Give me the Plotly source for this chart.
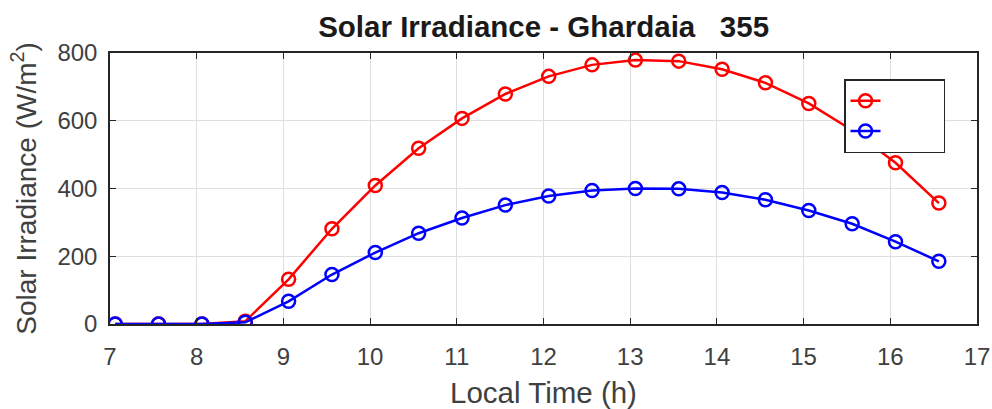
import plotly.graph_objects as go

time_h = [7.06, 7.56, 8.06, 8.56, 9.06, 9.56, 10.06, 10.56, 11.06, 11.56,
          12.06, 12.56, 13.06, 13.56, 14.06, 14.56, 15.06, 15.56, 16.06, 16.56]
red_vals = [0, 0, 0, 8, 132, 281, 409, 519, 607, 679,
            731, 765, 779, 776, 752, 712, 651, 572, 476, 357]
blue_vals = [0, 0, 0, 5, 67, 146, 211, 268, 313, 351,
             378, 394, 400, 399, 388, 367, 335, 296, 243, 185]

x_ticks = [7, 8, 9, 10, 11, 12, 13, 14, 15, 16, 17]
y_ticks = [0, 200, 400, 600, 800]

FONT = "Liberation Sans, Arial, sans-serif"
PAD = "\u00a0" * 9

fig = go.Figure()
fig.add_trace(go.Scatter(
    x=time_h, y=red_vals, mode="lines+markers", name=PAD,
    line=dict(color="#ff0000", width=2.5),
    marker=dict(symbol="circle-open", size=13, color="#ff0000", line=dict(width=2.5, color="#ff0000")),
))
fig.add_trace(go.Scatter(
    x=time_h, y=blue_vals, mode="lines+markers", name=PAD,
    line=dict(color="#0000ff", width=2.5),
    marker=dict(symbol="circle-open", size=13, color="#0000ff", line=dict(width=2.5, color="#0000ff")),
))

axis_common = dict(
    showline=True, linecolor="#262626", linewidth=1.5, mirror="allticks",
    ticks="inside", ticklen=6, tickcolor="#262626", tickwidth=1.2,
    showgrid=True, gridcolor="#dedede", gridwidth=1,
    zeroline=False, automargin=False,
    tickfont=dict(family=FONT, size=24, color="#404040"),
)

fig.update_layout(
    width=992, height=409,
    margin=dict(l=110, r=15, t=53, b=85),
    paper_bgcolor="white", plot_bgcolor="white",
    title=dict(text="<b>Solar Irradiance - Ghardaia   355</b>", x=0.548, xanchor="center",
               y=0.934, yanchor="middle",
               font=dict(family=FONT, size=29.5, color="#1a1a1a")),
    xaxis=dict(range=[7, 17], tickvals=x_ticks, ticklabelstandoff=10,
               title=dict(text="Local Time (h)", font=dict(family=FONT, size=29.5, color="#404040"), standoff=19),
               **axis_common),
    yaxis=dict(range=[0, 800], tickvals=y_ticks, ticklabelstandoff=6,
               title=dict(text="Solar Irradiance (W/m<sup>2</sup>)", font=dict(family=FONT, size=28, color="#404040"), standoff=13),
               **axis_common),
    legend=dict(x=0.8466, y=0.904, xanchor="left", yanchor="top",
                bordercolor="#262626", borderwidth=1.5, bgcolor="white",
                font=dict(family=FONT, size=21), tracegroupgap=0),
    showlegend=True,
)

fig.write_html("out.html")
